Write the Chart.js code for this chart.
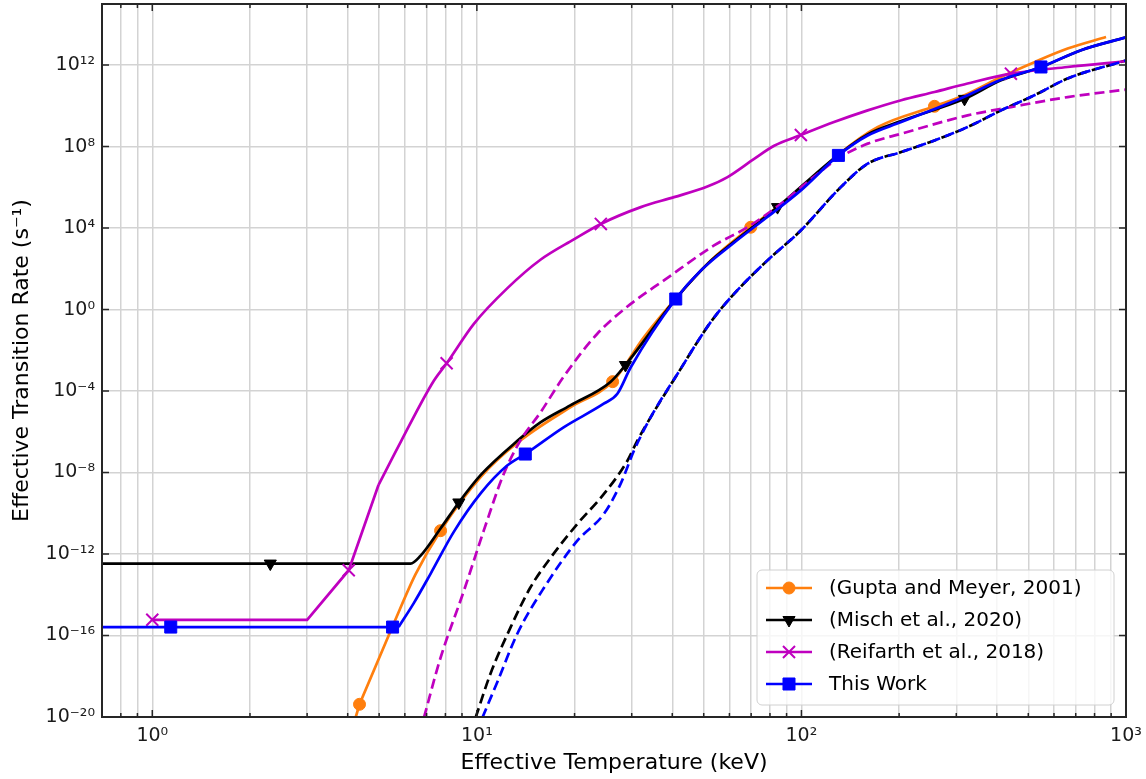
<!DOCTYPE html>
<html>
<head>
<meta charset="utf-8">
<script src="https://cdn.jsdelivr.net/npm/chart.js@4.4.1/dist/chart.umd.min.js"></script>
<style>
  html, body { margin: 0; padding: 0; background: #fff; }
  #wrap { width: 1146px; height: 779px; }
</style>
</head>
<body>
<div id="wrap"><canvas id="chart"></canvas></div>
<script>
// effective temperature (keV) vs effective transition rate (1/s)

// (Gupta and Meyer, 2001)
const guptaX = [4.23, 4.35, 5.48, 6.47, 7.73, 10.3, 13.3, 19.4, 26.2, 32.7, 41.5, 52.6, 69.8, 99.6, 130, 172, 257, 318, 412, 522, 661, 868];
const guptaY = [9.3e-21, 4.2e-20, 2.5e-16, 1.0e-13, 1.4e-11, 6.3e-9, 2.8e-7, 1.6e-5, 2.9e-4, 0.044, 4.3, 260, 1.1e4, 7.9e5, 4.0e7, 9.1e8, 9.5e9, 3.3e10, 2.6e11, 1.4e12, 6.5e12, 2.4e13];
const guptaMarkX = [4.35, 7.73, 26.2, 69.8, 257];
const guptaMarkY = [4.2e-20, 1.4e-11, 2.9e-4, 1.1e4, 9.5e9];

// (Misch et al., 2020)
const mischX = [0.7, 2.31, 6.25, 6.7, 7.73, 8.8, 10.3, 13.3, 15.7, 19.4, 25.8, 28.7, 41.5, 52.6, 61.7, 84.4, 130, 160, 203, 318, 412, 547, 727, 1000];
const mischY = [3.4e-13, 3.4e-13, 3.4e-13, 8.1e-13, 1.8e-11, 3.4e-10, 7.9e-9, 3.5e-7, 2.9e-6, 2.0e-5, 2.8e-4, 1.9e-3, 4.3, 250, 2.0e3, 1.07e5, 4.0e7, 4.0e8, 1.8e9, 2.2e10, 1.8e11, 7.9e11, 5.4e12, 2.3e13];
const mischMarkX = [2.31, 8.8, 28.7, 84.4, 318];
const mischMarkY = [3.4e-13, 3.4e-10, 1.9e-3, 1.07e5, 2.2e10];
const mischDashX = [9.91, 11.0, 12.7, 14.6, 16.9, 20.4, 24.6, 29.1, 31.2, 34.3, 41.5, 52.6, 62.0, 78.6, 99.5, 132, 160, 203, 257, 325, 412, 522, 661, 1000];
const mischDashY = [9.3e-21, 1.26e-18, 2.5e-16, 2.2e-14, 6.8e-13, 3.0e-11, 8.7e-10, 3.8e-8, 3.6e-7, 5.1e-6, 6.9e-4, 0.25, 5.9, 260, 7.6e3, 1.0e6, 1.45e7, 5.4e7, 2.0e8, 9.1e8, 6.0e9, 3.3e10, 2.2e11, 1.7e12];

// (Reifarth et al., 2018)
const reifarthX = [1.0, 3.0, 4.03, 4.98, 5.85, 7.37, 8.07, 9.79, 12.4, 15.7, 19.9, 24.1, 32.0, 40.5, 51.3, 59.2, 71.5, 82.4, 99.6, 126, 160, 203, 257, 325, 442, 661, 1000];
const reifarthY = [5.9e-16, 5.9e-16, 1.6e-13, 2.5e-9, 3.6e-7, 3.2e-4, 2.3e-3, 0.2, 11, 280, 2.8e3, 1.6e4, 1.07e5, 3.3e5, 1.1e6, 3.2e6, 2.5e7, 1.1e8, 3.7e8, 1.6e9, 6.0e9, 1.9e10, 4.8e10, 1.26e11, 3.8e11, 8.1e11, 1.55e12];
const reifarthMarkX = [1.0, 4.03, 8.07, 24.1, 99.6, 442];
const reifarthMarkY = [5.9e-16, 1.6e-13, 2.3e-3, 1.6e4, 3.7e8, 3.8e11];
const reifarthDashX = [6.87, 7.73, 9.12, 10.5, 12.1, 13.6, 15.7, 18.5, 23.5, 29.8, 37.7, 53.8, 68.2, 86.4, 109, 132, 160, 203, 325, 442, 661, 1000];
const reifarthDashY = [9.3e-21, 8.1e-18, 1.55e-14, 1.4e-11, 8.5e-9, 3.6e-7, 8.9e-6, 5.0e-4, 0.065, 1.9, 27, 1.4e3, 1.1e4, 1.55e5, 3.2e6, 3.1e7, 1.4e8, 4.3e8, 3.4e9, 8.7e9, 2.7e10, 6.3e10];

// This Work
const thisWorkX = [0.7, 1.14, 5.5, 5.74, 6.4, 7.2, 8.5, 10.3, 12.4, 14.1, 18.5, 24.6, 27.1, 29.8, 41.0, 49.0, 61.7, 78.5, 99.6, 130, 160, 203, 309, 412, 547, 727, 1000];
const thisWorkY = [2.6e-16, 2.6e-16, 2.6e-16, 2.6e-16, 4.0e-15, 1.07e-13, 1.26e-11, 1.0e-9, 2.2e-8, 8.1e-8, 1.66e-6, 2.4e-5, 7.4e-5, 1.48e-3, 3.3, 83, 1.8e3, 3.5e4, 7.1e5, 3.7e7, 3.5e8, 1.6e9, 2.3e10, 1.9e11, 8.1e11, 5.4e12, 2.3e13];
const thisWorkMarkX = [1.14, 5.5, 14.1, 41.0, 130, 547];
const thisWorkMarkY = [2.6e-16, 2.6e-16, 8.1e-8, 3.3, 3.7e7, 8.1e11];
const thisWorkDashX = [10.4, 11.6, 13.3, 16.1, 20.4, 24.6, 27.7, 30.5, 34.3, 41.5, 52.6, 62.0, 78.6, 99.5, 132, 160, 203, 257, 325, 412, 522, 661, 1000];
const thisWorkDashY = [9.3e-21, 5.9e-19, 1.15e-16, 2.2e-14, 4.5e-12, 9.1e-11, 2.7e-9, 1.2e-7, 5.1e-6, 6.9e-4, 0.25, 5.9, 260, 7.6e3, 1.0e6, 1.45e7, 5.4e7, 2.0e8, 9.1e8, 6.0e9, 3.3e10, 2.2e11, 1.7e12];

const legendLabels = ['(Gupta and Meyer, 2001)', '(Misch et al., 2020)', '(Reifarth et al., 2018)', 'This Work'];

// axis ticks
const xMajorTicks = [1, 10, 100, 1000];
const yMajorTicks = [1e-20, 1e-16, 1e-12, 1e-8, 1e-4, 1, 1e4, 1e8, 1e12];
const xMinorTicks = [0.7, 0.8, 0.9];
[1, 10, 100].forEach(d => { for (let m = 2; m <= 9; m++) xMinorTicks.push(m * d); });

const ORANGE = '#ff7f0e', BLACK = '#000000', MAGENTA = '#bf00bf', BLUE = '#0000ff';
const LINE_W = 2.7;

const SUP = { '0': '⁰', '1': '¹', '2': '²', '3': '³', '4': '⁴', '5': '⁵', '6': '⁶', '7': '⁷', '8': '⁸', '9': '⁹', '-': '⁻' };
function powLabel(v) {
    const e = Math.round(Math.log10(v));
    return '10' + String(e).split('').map(c => SUP[c]).join('');
}
function isPow10(v) {
    const l = Math.log10(v);
    return Math.abs(l - Math.round(l)) < 1e-9;
}

const toPoints = (xs, ys) => xs.map((x, i) => ({ x, y: ys[i] }));

// smooth line; the first `straight` points (if any) are joined with straight segments
function lineSets(xs, ys, color, dashed, straight) {
    const base = {
        borderColor: color,
        borderWidth: LINE_W,
        borderDash: dashed ? [10, 5] : [],
        pointRadius: 0,
        pointHitRadius: 0,
        fill: false
    };
    if (!straight) {
        return [{ ...base, data: toPoints(xs, ys), cubicInterpolationMode: 'monotone' }];
    }
    return [
        { ...base, data: toPoints(xs.slice(0, straight), ys.slice(0, straight)), tension: 0 },
        { ...base, data: toPoints(xs.slice(straight - 1), ys.slice(straight - 1)), cubicInterpolationMode: 'monotone' }
    ];
}

function markerSet(xs, ys, color, style, radius, rotation) {
    return {
        data: toPoints(xs, ys),
        showLine: false,
        pointStyle: style,
        pointRadius: radius,
        pointRotation: rotation || 0,
        pointBackgroundColor: color,
        pointBorderColor: color,
        pointBorderWidth: style === 'crossRot' ? 2 : 1
    };
}

// bottom to top drawing order
const stack = [
    ...lineSets(guptaX, guptaY, ORANGE, false, 3),
    markerSet(guptaMarkX, guptaMarkY, ORANGE, 'circle', 6),
    ...lineSets(mischX, mischY, BLACK, false),
    markerSet(mischMarkX, mischMarkY, BLACK, 'triangle', 7, 180),
    ...lineSets(mischDashX, mischDashY, BLACK, true),
    ...lineSets(reifarthX, reifarthY, MAGENTA, false, 4),
    markerSet(reifarthMarkX, reifarthMarkY, MAGENTA, 'crossRot', 8.5),
    ...lineSets(reifarthDashX, reifarthDashY, MAGENTA, true),
    ...lineSets(thisWorkX, thisWorkY, BLUE, false, 4),
    markerSet(thisWorkMarkX, thisWorkMarkY, BLUE, 'rect', 8.5),
    ...lineSets(thisWorkDashX, thisWorkDashY, BLUE, true)
];
stack.forEach((ds, i) => { ds.order = stack.length - i; });

const legendStyles = [
    { color: ORANGE, pointStyle: 'circle', radius: 6, rotation: 0 },
    { color: BLACK, pointStyle: 'triangle', radius: 7, rotation: 180 },
    { color: MAGENTA, pointStyle: 'crossRot', radius: 8.5, rotation: 0 },
    { color: BLUE, pointStyle: 'rect', radius: 8.5, rotation: 0 }
];

const frameAndTicks = {
    id: 'frameAndTicks',
    afterDatasetsDraw(chart) {
        const { ctx, chartArea: a, scales: { x, y } } = chart;
        ctx.save();
        ctx.strokeStyle = '#262626';
        ctx.lineWidth = 1.5;
        ctx.beginPath();
        xMinorTicks.concat(xMajorTicks).forEach(v => {
            const px = x.getPixelForValue(v);
            const len = isPow10(v) ? 7 : 4;
            ctx.moveTo(px, a.bottom); ctx.lineTo(px, a.bottom - len);
            ctx.moveTo(px, a.top); ctx.lineTo(px, a.top + len);
        });
        yMajorTicks.forEach(v => {
            const py = y.getPixelForValue(v);
            ctx.moveTo(a.left, py); ctx.lineTo(a.left + 7, py);
            ctx.moveTo(a.right, py); ctx.lineTo(a.right - 7, py);
        });
        ctx.stroke();
        ctx.lineWidth = 2;
        ctx.strokeRect(a.left, a.top, a.right - a.left, a.bottom - a.top);
        ctx.restore();
    }
};

const insetLegend = {
    id: 'insetLegend',
    afterDraw(chart) {
        const { ctx, chartArea: a } = chart;
        const w = 357, h = 135, rowH = 32;
        const left = a.right - 12 - w, top = a.bottom - 12 - h;
        ctx.save();
        ctx.beginPath();
        ctx.roundRect(left, top, w, h, 5);
        ctx.fillStyle = 'rgba(255,255,255,0.8)';
        ctx.fill();
        ctx.strokeStyle = '#d0d0d0';
        ctx.lineWidth = 1;
        ctx.stroke();
        ctx.font = '20px "DejaVu Sans"';
        ctx.textBaseline = 'middle';
        legendLabels.forEach((label, i) => {
            const s = legendStyles[i];
            const cy = top + 18 + i * rowH;
            ctx.strokeStyle = s.color;
            ctx.lineWidth = LINE_W;
            ctx.beginPath();
            ctx.moveTo(left + 9, cy);
            ctx.lineTo(left + 55, cy);
            ctx.stroke();
            ctx.fillStyle = s.color;
            ctx.lineWidth = s.pointStyle === 'crossRot' ? 2 : 1;
            Chart.helpers.drawPoint(ctx, { pointStyle: s.pointStyle, radius: s.radius, rotation: s.rotation, borderWidth: ctx.lineWidth }, left + 32, cy);
            ctx.fillStyle = '#000';
            ctx.fillText(label, left + 72, cy + 1);
        });
        ctx.restore();
    }
};

Chart.defaults.font.family = '"DejaVu Sans", sans-serif';
Chart.defaults.color = '#000';

new Chart(document.getElementById('chart'), {
    type: 'line',
    data: { datasets: stack },
    options: {
        responsive: true,
        maintainAspectRatio: false,
        animation: false,
        events: [],
        layout: { autoPadding: false, padding: { top: 4, right: 20, left: 0, bottom: 0 } },
        plugins: {
            legend: { display: false },
            tooltip: { enabled: false }
        },
        scales: {
            x: {
                type: 'logarithmic',
                min: 0.7,
                max: 1000,
                afterBuildTicks: scale => {
                    scale.ticks = xMinorTicks.concat(xMajorTicks).sort((p, q) => p - q).map(v => ({ value: v }));
                },
                afterFit: scale => {
                    scale.height = 62;
                    scale.paddingLeft = 0;
                    scale.paddingRight = 0;
                },
                grid: { color: '#d3d3d3', lineWidth: 1.5, drawTicks: false },
                border: { display: false },
                ticks: {
                    autoSkip: false,
                    maxRotation: 0,
                    padding: 8,
                    font: { size: 19 },
                    color: '#1a1a1a',
                    callback: v => isPow10(v) ? powLabel(v) : ''
                },
                title: {
                    display: true,
                    text: 'Effective Temperature (keV)',
                    font: { size: 22 },
                    color: '#000',
                    padding: { top: 0, bottom: 3 }
                }
            },
            y: {
                type: 'logarithmic',
                min: 1e-20,
                max: 1e15,
                afterBuildTicks: scale => {
                    scale.ticks = yMajorTicks.map(v => ({ value: v }));
                },
                afterFit: scale => {
                    scale.width = 102;
                    scale.paddingTop = 0;
                    scale.paddingBottom = 0;
                },
                grid: { color: '#d3d3d3', lineWidth: 1.5, drawTicks: false },
                border: { display: false },
                ticks: {
                    autoSkip: false,
                    padding: 7,
                    font: { size: 19 },
                    color: '#1a1a1a',
                    callback: v => powLabel(v)
                },
                title: {
                    display: true,
                    text: 'Effective Transition Rate (s⁻¹)',
                    font: { size: 22 },
                    color: '#000',
                    padding: { top: 9, bottom: 0 }
                }
            }
        }
    },
    plugins: [frameAndTicks, insetLegend]
});
</script>
</body>
</html>
